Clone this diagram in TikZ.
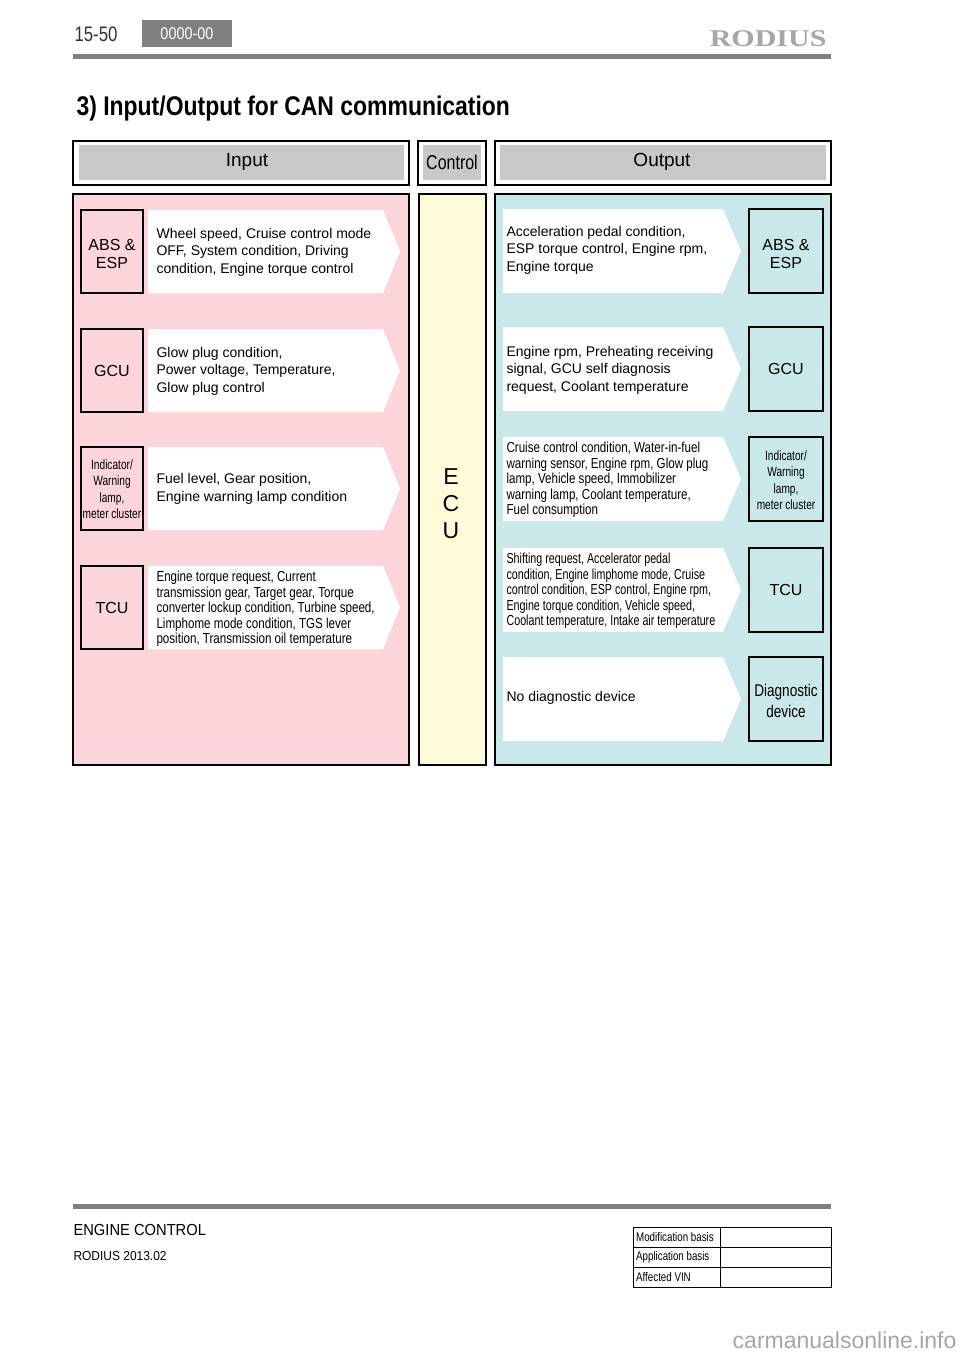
\documentclass[tikz,border=0pt]{standalone}
\usepackage{fontspec}
\setmainfont{Liberation Sans}
\newfontfamily\logofont{Liberation Serif}
\definecolor{pinkbg}{HTML}{FCD5DB}
\definecolor{bluebg}{HTML}{C9E8EA}
\definecolor{yelbg}{HTML}{FFFBD8}
\definecolor{hdr}{HTML}{C8C8CA}
\definecolor{bar}{HTML}{808080}
\begin{document}
\begin{tikzpicture}[x=1pt,y=-1pt,
  panel/.style={draw=black,line width=1.2pt},
  dev/.style={align=center,font=\fontsize{16}{18}\selectfont},
  txt/.style={anchor=west,align=left,font=\fontsize{14}{17.5}\selectfont},
  ctxt/.style={anchor=west,align=left,font=\fontsize{14.5}{15.5}\selectfont\addfontfeatures{FakeStretch=0.8}},
  small/.style={font=\fontsize{13.5}{16.5}\selectfont\addfontfeatures{FakeStretch=0.75}}]
\useasboundingbox (0,0) rectangle (960,1358);
\fill[white] (0,0) rectangle (960,1358);
% header
\node[anchor=west,font=\fontsize{21}{22}\selectfont\addfontfeatures{FakeStretch=0.8},text=black!80] (pg) at (71,34) {15-50};
\fill[bar] (142,20) rectangle (232,47);
\node[text=white,font=\fontsize{17}{18}\selectfont\addfontfeatures{FakeStretch=0.85}] (code) at (187,34) {0000-00};
\node[anchor=east,font=\fontsize{24}{24}\bfseries\logofont\addfontfeatures{FakeStretch=1.25},text=black!35] (logo) at (830,39) {RODIUS};
\fill[bar] (73,54) rectangle (831,59);
\node[anchor=west,font=\fontsize{27}{28}\bfseries\addfontfeatures{FakeStretch=0.85}] (title) at (73,109) {3) Input/Output for CAN communication};
% header boxes
\draw[panel,fill=white] (73,141) rectangle (409,185);
\fill[hdr] (79,145) rectangle (404,180);
\node[font=\fontsize{19}{20}\selectfont] (hin) at (247,162) {Input};
\draw[panel,fill=white] (418,141) rectangle (486,185);
\fill[hdr] (423,145) rectangle (481,180);
\node[font=\fontsize{20}{20}\selectfont\addfontfeatures{FakeStretch=0.8}] (hct) at (452,162) {Control};
\draw[panel,fill=white] (495,141) rectangle (831,185);
\fill[hdr] (500,145) rectangle (826,180);
\node[font=\fontsize{19}{20}\selectfont] (hout) at (662,162) {Output};
% panels
\draw[panel,fill=pinkbg] (73,194) rectangle (409,765);
\draw[panel,fill=yelbg] (419,194) rectangle (486,765);
\draw[panel,fill=bluebg] (495,194) rectangle (831,765);
\node[align=center,font=\fontsize{23}{27}\selectfont] (ecu) at (451,504) {E\\C\\U};
% input rows
\foreach \t in {210,329,447,566}{
  \fill[white] (148,\t) -- (383,\t) -- (400,\t+41.5) -- (383,\t+83) -- (148,\t+83) -- cycle;
  \draw[line width=1.2pt,fill=pinkbg] (81,\t) rectangle (143,\t+83);
}
\node[dev] (i1) at (112,254) {ABS \&\\ESP};
\node[dev] (i2) at (112,371) {GCU};
\node[small,align=center,inner sep=0pt] (i3) at (112,489) {Indicator/\\Warning\\lamp,\\meter cluster};
\node[dev] (i4) at (112,608) {TCU};
\node[txt] (t1) at (153,252) {Wheel speed, Cruise control mode\\OFF, System condition, Driving\\condition, Engine torque control};
\node[txt] (t2) at (153,371) {Glow plug condition,\\Power voltage, Temperature,\\Glow plug control};
\node[txt] (t3) at (153,489) {Fuel level, Gear position,\\Engine warning lamp condition};
\node[ctxt] (t4) at (153,609) {Engine torque request, Current\\transmission gear, Target gear, Torque\\converter lockup condition, Turbine speed,\\Limphome mode condition, TGS lever\\position, Transmission oil temperature};
% output rows
\foreach \t in {209,327,437,548,657}{
  \fill[white] (503,\t) -- (723,\t) -- (741,\t+42) -- (723,\t+84) -- (503,\t+84) -- cycle;
  \draw[line width=1.2pt,fill=bluebg] (749,\t) rectangle (823,\t+84);
}
\node[dev] (o1) at (786,254) {ABS \&\\ESP};
\node[dev] (o2) at (786,369) {GCU};
\node[small,align=center,inner sep=0pt] (o3) at (786,480) {Indicator/\\Warning\\lamp,\\meter cluster};
\node[dev] (o4) at (786,590) {TCU};
\node[dev,font=\fontsize{17}{21}\selectfont\addfontfeatures{FakeStretch=0.8}] (o5) at (786,701) {Diagnostic\\device};
\node[txt] (u1) at (503,250) {Acceleration pedal condition,\\ESP torque control, Engine rpm,\\Engine torque};
\node[txt] (u2) at (503,370) {Engine rpm, Preheating receiving\\signal, GCU self diagnosis\\request, Coolant temperature};
\node[ctxt] (u3) at (503,480) {Cruise control condition, Water-in-fuel\\warning sensor, Engine rpm, Glow plug\\lamp, Vehicle speed, Immobilizer\\warning lamp, Coolant temperature,\\Fuel consumption};
\node[ctxt,font=\fontsize{14.5}{15.5}\selectfont\addfontfeatures{FakeStretch=0.74}] (u4) at (503,591) {Shifting request, Accelerator pedal\\condition, Engine limphome mode, Cruise\\control condition, ESP control, Engine rpm,\\Engine torque condition, Vehicle speed,\\Coolant temperature, Intake air temperature};
\node[txt] (u5) at (503,698) {No diagnostic device};
% footer
\fill[bar] (73,1204) rectangle (831,1209);
\node[anchor=west,font=\fontsize{16}{17}\selectfont\addfontfeatures{FakeStretch=0.92}] (ec) at (70,1230) {ENGINE CONTROL};
\node[anchor=west,font=\fontsize{13}{14}\selectfont\addfontfeatures{FakeStretch=0.92}] (rd) at (70,1256) {RODIUS 2013.02};
\draw[line width=0.9pt] (633,1227) rectangle (831,1287);
\draw[line width=0.6pt] (633,1247) -- (831,1247) (633,1267) -- (831,1267) (720,1227) -- (720,1287);
\node[anchor=west,font=\fontsize{12.5}{12}\selectfont\addfontfeatures{FakeStretch=0.78},inner sep=2pt] (m1) at (634,1237) {Modification basis};
\node[anchor=west,font=\fontsize{12.5}{12}\selectfont\addfontfeatures{FakeStretch=0.78},inner sep=2pt] (m2) at (634,1257) {Application basis};
\node[anchor=west,font=\fontsize{12.5}{12}\selectfont\addfontfeatures{FakeStretch=0.78},inner sep=2pt] (m3) at (634,1277) {Affected VIN};
\node[anchor=east,font=\fontsize{23}{22}\selectfont,text=black!35] (wm) at (960,1340) {carmanualsonline.info};
\end{tikzpicture}
\end{document}
